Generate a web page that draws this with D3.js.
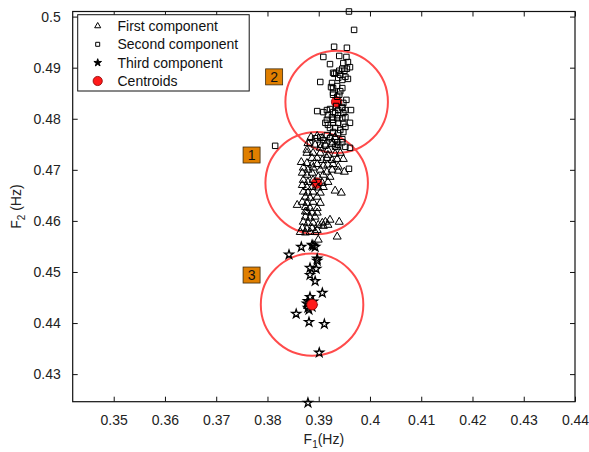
<!DOCTYPE html>
<html>
<head>
<meta charset="utf-8">
<script src="https://cdn.jsdelivr.net/npm/d3@7"></script>
<style>
  html, body { margin: 0; padding: 0; background: #fff; }
  svg { display: block; font-family: "Liberation Sans", Arial, sans-serif; }
</style>
</head>
<body>
<svg id="chart" width="589" height="452"></svg>
<script>
// Formant pairs (F1, F2 in Hz) assigned to each mixture component
const firstComponent = [
  [0.3885,0.4764],[0.3897,0.4766],[0.3907,0.4762],[0.3922,0.4764],[0.3932,0.4764],
  [0.3879,0.4752],[0.3893,0.4749],[0.3913,0.4749],[0.3926,0.4750],[0.3903,0.4743],
  [0.3918,0.4739],[0.3936,0.4745],[0.3877,0.4739],[0.3942,0.4733],[0.3877,0.4733],
  [0.3889,0.4733],[0.3903,0.4733],[0.3918,0.4729],[0.3932,0.4731],[0.3887,0.4723],
  [0.3897,0.4723],[0.3907,0.4719],[0.3916,0.4723],[0.3926,0.4719],[0.3936,0.4721],
  [0.3948,0.4721],[0.3866,0.4715],[0.3877,0.4713],[0.3887,0.4710],[0.3897,0.4711],
  [0.3909,0.4708],[0.3918,0.4710],[0.3928,0.4711],[0.3938,0.4706],[0.3950,0.4696],
  [0.3938,0.4698],[0.3870,0.4704],[0.3879,0.4700],[0.3889,0.4704],[0.3903,0.4700],
  [0.3916,0.4696],[0.3926,0.4700],[0.3868,0.4694],[0.3877,0.4690],[0.3887,0.4694],
  [0.3899,0.4686],[0.3909,0.4690],[0.3922,0.4686],[0.3870,0.4680],[0.3879,0.4676],
  [0.3889,0.4680],[0.3907,0.4674],[0.3918,0.4676],[0.3868,0.4670],[0.3877,0.4666],
  [0.3887,0.4666],[0.3899,0.4665],[0.3909,0.4666],[0.3932,0.4659],[0.3944,0.4655],
  [0.3870,0.4657],[0.3879,0.4655],[0.3889,0.4657],[0.3903,0.4655],[0.3874,0.4647],
  [0.3883,0.4645],[0.3897,0.4647],[0.3868,0.4637],[0.3877,0.4635],[0.3889,0.4637],
  [0.3903,0.4635],[0.3858,0.4631],[0.3874,0.4627],[0.3883,0.4625],[0.3897,0.4625],
  [0.3874,0.4618],[0.3887,0.4616],[0.3897,0.4616],[0.3877,0.4618],[0.3874,0.4608],
  [0.3883,0.4606],[0.3893,0.4608],[0.3870,0.4598],[0.3879,0.4596],[0.3889,0.4596],
  [0.3907,0.4596],[0.3913,0.4598],[0.3922,0.4602],[0.3940,0.4598],[0.3899,0.4592],
  [0.3909,0.4590],[0.3918,0.4592],[0.3868,0.4586],[0.3877,0.4584],[0.3887,0.4586],
  [0.3897,0.4582],[0.3864,0.4578],[0.3874,0.4577],[0.3883,0.4578],[0.3893,0.4578],
  [0.3936,0.4569],[0.3899,0.4563]
];

const secondComponent = [
  [0.3959,0.5010],[0.3969,0.4974],[0.3930,0.4941],[0.3955,0.4939],[0.3909,0.4921],
  [0.3940,0.4923],[0.3954,0.4921],[0.3922,0.4907],[0.3948,0.4909],[0.3957,0.4911],
  [0.3961,0.4901],[0.3955,0.4898],[0.3950,0.4894],[0.3940,0.4894],[0.3928,0.4890],
  [0.3946,0.4898],[0.3930,0.4888],[0.3934,0.4890],[0.3942,0.4886],[0.3952,0.4882],
  [0.3957,0.4878],[0.3903,0.4872],[0.3938,0.4880],[0.3946,0.4876],[0.3926,0.4870],
  [0.3924,0.4862],[0.3936,0.4864],[0.3928,0.4860],[0.3942,0.4854],[0.3928,0.4851],
  [0.3946,0.4860],[0.3928,0.4847],[0.3936,0.4843],[0.3940,0.4847],[0.3954,0.4837],
  [0.3948,0.4831],[0.3946,0.4823],[0.3934,0.4825],[0.3897,0.4815],[0.3909,0.4813],
  [0.3916,0.4817],[0.3922,0.4819],[0.3928,0.4813],[0.3938,0.4817],[0.3946,0.4821],
  [0.3952,0.4817],[0.3963,0.4817],[0.3918,0.4807],[0.3926,0.4803],[0.3932,0.4811],
  [0.3938,0.4807],[0.3948,0.4811],[0.3952,0.4803],[0.3916,0.4798],[0.3928,0.4798],
  [0.3936,0.4801],[0.3946,0.4801],[0.3961,0.4792],[0.3913,0.4792],[0.3918,0.4788],
  [0.3928,0.4792],[0.3938,0.4792],[0.3948,0.4790],[0.3922,0.4782],[0.3932,0.4782],
  [0.3942,0.4778],[0.3952,0.4784],[0.3928,0.4774],[0.3938,0.4772],[0.3948,0.4774],
  [0.3916,0.4768],[0.3903,0.4764],[0.3893,0.4762],[0.3909,0.4758],[0.3922,0.4762],
  [0.3932,0.4760],[0.3946,0.4760],[0.3926,0.4754],[0.3936,0.4754],[0.3946,0.4754],
  [0.3815,0.4747],[0.3883,0.4752],[0.3903,0.4749],[0.3913,0.4747],[0.3932,0.4745],
  [0.3952,0.4745],[0.3961,0.4743],[0.3959,0.4702],[0.3938,0.4749]
];

const thirdComponent = [
  [0.3842,0.4534],[0.3866,0.4549],[0.3887,0.4553],[0.3893,0.4549],[0.3889,0.4551],
  [0.3897,0.4522],[0.3897,0.4526],[0.3883,0.4508],[0.3895,0.4506],[0.3883,0.4494],
  [0.3893,0.4482],[0.3907,0.4459],[0.3883,0.4451],[0.3879,0.4443],[0.3877,0.4438],
  [0.3879,0.4430],[0.3881,0.4426],[0.3887,0.4432],[0.3889,0.4442],[0.3856,0.4418],
  [0.3881,0.4402],[0.3911,0.4398],[0.3901,0.4342],[0.3879,0.4244]
];

const centroids = [[0.3896,0.4674],[0.3935,0.4833],[0.3887,0.4436]];
const clusterRadius = 0.01;
const clusterLabels = ["1", "2", "3"];
const labelPositions = [[0.3769,0.4729],[0.3813,0.4882],[0.3769,0.4494]];

const xTicks = [0.35,0.36,0.37,0.38,0.39,0.40,0.41,0.42,0.43,0.44];
const yTicks = [0.43,0.44,0.45,0.46,0.47,0.48,0.49,0.50];
const legendNames = ["First component","Second component","Third component","Centroids"];

const svg = d3.select("#chart");
const plotLeft = 72.7, plotRight = 575, plotTop = 11.5, plotBottom = 401.7;

const x = d3.scaleLinear().domain([0.342, 0.44]).range([plotLeft, plotRight]);
const y = d3.scaleLinear().domain([0.4246, 0.501]).range([plotBottom, plotTop]);

const fmt = d => String(+d.toFixed(2));

// axes: ticks point inward on all four sides
const axes = svg.append("g");
const axStyle = g => {
  g.select(".domain").remove();
  g.selectAll(".tick line").attr("stroke", "#111").attr("stroke-width", 1);
  g.selectAll(".tick text").attr("fill", "#222").attr("font-size", 14)
    .attr("font-family", "'Liberation Sans', Arial, sans-serif");
};
axes.append("g").attr("transform", `translate(0,${plotBottom})`)
  .call(d3.axisBottom(x).tickValues(xTicks).tickFormat(fmt).tickSizeInner(-5).tickPadding(13))
  .call(axStyle);
axes.append("g").attr("transform", `translate(0,${plotTop})`)
  .call(d3.axisTop(x).tickValues(xTicks).tickFormat("").tickSizeInner(-5))
  .call(axStyle);
axes.append("g").attr("transform", `translate(${plotLeft},0)`)
  .call(d3.axisLeft(y).tickValues(yTicks).tickFormat(fmt).tickSizeInner(-5).tickPadding(12))
  .call(axStyle);
axes.append("g").attr("transform", `translate(${plotRight},0)`)
  .call(d3.axisRight(y).tickValues(yTicks).tickFormat("").tickSizeInner(-5))
  .call(axStyle);

svg.append("rect")
  .attr("x", plotLeft).attr("y", plotTop)
  .attr("width", plotRight - plotLeft).attr("height", plotBottom - plotTop)
  .attr("fill", "none").attr("stroke", "#111").attr("stroke-width", 1.2);

// axis titles
svg.append("text").attr("x", (plotLeft + plotRight) / 2).attr("y", 444)
  .attr("text-anchor", "middle").attr("font-size", 14).attr("fill", "#222")
  .html('F<tspan font-size="10" dy="4">1</tspan><tspan dy="-4">(Hz)</tspan>');
svg.append("text").attr("transform", `translate(21,${(plotTop + plotBottom) / 2}) rotate(-90)`)
  .attr("text-anchor", "middle").attr("font-size", 14).attr("fill", "#222")
  .html('F<tspan font-size="10" dy="4">2</tspan><tspan dy="-4"> (Hz)</tspan>');

// cluster circles of fixed radius around each centroid
const rx = x(clusterRadius) - x(0);
const ry = y(0) - y(clusterRadius);
svg.append("g").selectAll("ellipse").data(centroids).join("ellipse")
  .attr("cx", d => x(d[0])).attr("cy", d => y(d[1]))
  .attr("rx", rx).attr("ry", ry)
  .attr("fill", "none").attr("stroke", "#ff4b4b").attr("stroke-width", 2);

const tri = d3.symbol().type(d3.symbolTriangle).size(28);
const sq = d3.symbol().type(d3.symbolSquare).size(30);
const star = d3.symbol().type(d3.symbolStar).size(24);

const drawPoints = (data, sym, sw) => svg.append("g").selectAll("path").data(data).join("path")
  .attr("d", sym)
  .attr("transform", d => `translate(${x(d[0])},${y(d[1])})`)
  .attr("fill", "none").attr("stroke", "#000").attr("stroke-width", sw);

drawPoints(thirdComponent, star, 1.3);

// centroid markers
svg.append("g").selectAll("circle").data(centroids).join("circle")
  .attr("cx", d => x(d[0])).attr("cy", d => y(d[1])).attr("r", 5.3)
  .attr("fill", "#ff1a1a").attr("stroke", "#8a0000").attr("stroke-width", 0.8);

drawPoints(secondComponent, sq, 1);
drawPoints(firstComponent, tri, 1);

// numbered cluster tags
const tags = svg.append("g").selectAll("g").data(labelPositions).join("g")
  .attr("transform", d => `translate(${x(d[0])},${y(d[1])})`);
tags.append("rect").attr("x", -8.5).attr("y", -8).attr("width", 17).attr("height", 16)
  .attr("fill", "#e07f00").attr("stroke", "#3a2a10").attr("stroke-width", 0.8);
tags.append("text").text((d, i) => clusterLabels[i])
  .attr("text-anchor", "middle").attr("y", 5).attr("font-size", 14).attr("fill", "#111");

// legend
const lg = svg.append("g");
lg.append("rect").attr("x", 77.7).attr("y", 14.7).attr("width", 171.5).attr("height", 76.3)
  .attr("fill", "#fff").attr("stroke", "#111").attr("stroke-width", 1);
const rowsY = [26, 44.3, 62.7, 81];
const legendSyms = [
  d3.symbol().type(d3.symbolTriangle).size(16)(),
  d3.symbol().type(d3.symbolSquare).size(16)(),
  d3.symbol().type(d3.symbolStar).size(18)(),
  null
];
legendNames.forEach((name, i) => {
  if (legendSyms[i]) {
    lg.append("path").attr("d", legendSyms[i])
      .attr("transform", `translate(97.7,${rowsY[i]})`)
      .attr("fill", i === 2 ? "#000" : "none").attr("stroke", "#000").attr("stroke-width", 1);
  } else {
    lg.append("circle").attr("cx", 97.7).attr("cy", rowsY[i]).attr("r", 4.6)
      .attr("fill", "#ff1a1a").attr("stroke", "#8a0000").attr("stroke-width", 0.8);
  }
  lg.append("text").attr("x", 117.5).attr("y", rowsY[i] + 5)
    .attr("font-size", 14).attr("fill", "#111").text(name);
});
</script>
</body>
</html>
